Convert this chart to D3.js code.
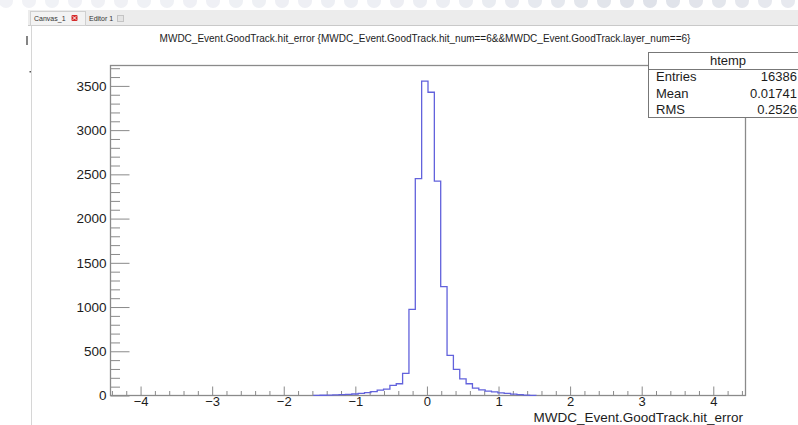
<!DOCTYPE html>
<html>
<head>
<meta charset="utf-8">
<script src="https://cdn.jsdelivr.net/npm/d3@7"></script>
<style>
  html, body { margin: 0; padding: 0; background: #fff; overflow: hidden; }
  text { font-family: "Liberation Sans", Arial, Helvetica, sans-serif; }
</style>
</head>
<body>
<svg id="c" width="798" height="425"></svg>
<script>
// ---- histogram contents ----
const histName = "htemp";
const plotTitle = "MWDC_Event.GoodTrack.hit_error {MWDC_Event.GoodTrack.hit_num==6&&MWDC_Event.GoodTrack.layer_num==6}";
const xTitle = "MWDC_Event.GoodTrack.hit_error";
const binLow = -4.42;
const binHigh = 4.45;
// 100 bins between binLow and binHigh
const counts = [
  0, 0, 0, 0, 0, 0, 0, 0, 0, 0,
  0, 0, 0, 0, 0, 0, 0, 0, 0, 0,
  0, 0, 0, 0, 0, 0, 0, 0, 0, 0,
  0, 0, 1, 3, 5, 7, 10, 13, 17, 24,
  32, 44, 60, 72, 114, 133, 250, 973, 2451, 3553,
  3428, 2424, 1231, 453, 295, 189, 133, 83, 63, 49,
  42, 30, 23, 15, 11, 5, 2, 0, 0, 0,
  0, 0, 0, 0, 0, 0, 0, 0, 0, 0,
  0, 0, 0, 0, 0, 0, 0, 0, 0, 0,
  0, 0, 0, 0, 0, 0, 0, 0, 0, 0
];
const statLabels = ["Entries", "Mean", "RMS"];
const statValues = ["16386", "0.01741", "0.2526"];
const xTickValues = [-4, -3, -2, -1, 0, 1, 2, 3, 4];
const yTickValues = [0, 500, 1000, 1500, 2000, 2500, 3000, 3500];
const tabNames = ["Canvas_1", "Editor 1"];

const svg = d3.select("#c");
const W = 798, H = 425;

// ---- window chrome ----
const chrome = svg.append("g");
// faint decorative strip above the tab bar
const strip = d3.range(6, W, 23);
const stripColor = d3.scaleLinear().domain([0, 450, 650, W]).range(["#f1f2f6", "#eceef3", "#dfe2e9", "#e8eaef"]);
chrome.selectAll("circle.strip").data(strip).join("circle")
  .attr("class", "strip")
  .attr("cx", d => d).attr("cy", 1).attr("r", 7)
  .attr("fill", d => stripColor(d));
chrome.append("rect").attr("x", 28).attr("y", 10).attr("width", W - 28).attr("height", 15).attr("fill", "#ececec");
chrome.append("line").attr("x1", 28).attr("x2", W).attr("y1", 25.5).attr("y2", 25.5).attr("stroke", "#c9c9c9");
// tabs
chrome.append("rect").attr("x", 30.5).attr("y", 11.5).attr("width", 55).attr("height", 14).attr("fill", "#f3f3f3").attr("stroke", "#d0d0d0");
chrome.append("text").attr("x", 34).attr("y", 21).attr("font-size", 7).attr("fill", "#333").text(tabNames[0]);
chrome.append("rect").attr("x", 71.5).attr("y", 15).attr("width", 6).attr("height", 6).attr("fill", "#d42a2a").attr("rx", 1);
chrome.append("path").attr("d", "M72.8,16.3L76.2,19.7M76.2,16.3L72.8,19.7").attr("stroke", "#fff").attr("stroke-width", 1);
chrome.append("text").attr("x", 89).attr("y", 21).attr("font-size", 7).attr("fill", "#333").text(tabNames[1]);
chrome.append("rect").attr("x", 117.5).attr("y", 15.5).attr("width", 6).attr("height", 6).attr("fill", "#e4e4e4").attr("stroke", "#c4c4c4");
// canvas border and small marks on the left margin
chrome.append("line").attr("x1", 31.5).attr("x2", 31.5).attr("y1", 26).attr("y2", H).attr("stroke", "#d6d6d6");
chrome.append("line").attr("x1", 27).attr("x2", 27).attr("y1", 36).attr("y2", 45).attr("stroke", "#333").attr("stroke-width", 1.2);
chrome.append("rect").attr("x", 29.5).attr("y", 71).attr("width", 1.5).attr("height", 1.5).attr("fill", "#555");

// ---- frame and scales ----
const fL = 110.5, fR = 745.5, fT = 65.5, fB = 395.5;
const nBins = counts.length;
const binW = (binHigh - binLow) / nBins;
const yMax = d3.max(counts) * 1.05;
const x = d3.scaleLinear().domain([binLow, binHigh]).range([fL, fR]);
const y = d3.scaleLinear().domain([0, yMax]).range([fB, fT]);

const frameColor = "#8a8a8a";
const textColor = "#1c1c1c";

// title
svg.append("text")
  .attr("x", 425).attr("y", 42)
  .attr("text-anchor", "middle")
  .attr("font-size", 10)
  .attr("fill", textColor)
  .text(plotTitle);

// x axis: major and minor ticks pointing into the frame
const gx = svg.append("g").attr("transform", `translate(0,${fB})`);
gx.call(d3.axisBottom(x).tickValues(xTickValues).tickSize(-9).tickSizeOuter(0).tickPadding(1.5)
  .tickFormat(d3.format("d")));
const xMinor = d3.range(-44, 45, 2).map(v => v / 10).filter(v => v > binLow && v < binHigh && Math.abs(v - Math.round(v)) > 1e-6);
gx.append("g").call(d3.axisBottom(x).tickValues(xMinor).tickSize(-4.5).tickSizeOuter(0).tickFormat(""));

// y axis
const gy = svg.append("g").attr("transform", `translate(${fL},0)`);
gy.call(d3.axisLeft(y).tickValues(yTickValues).tickSize(-19).tickSizeOuter(0).tickPadding(4)
  .tickFormat(d3.format("d")));
const yMinor = d3.range(100, yMax, 100).filter(v => v % 500 !== 0);
gy.append("g").call(d3.axisLeft(y).tickValues(yMinor).tickSize(-9.5).tickSizeOuter(0).tickFormat(""));

svg.selectAll(".domain").remove();
svg.selectAll(".tick line").attr("stroke", frameColor);
svg.selectAll(".tick text").attr("font-size", 13.5).attr("fill", textColor)
  .attr("font-family", "'Liberation Sans', Arial, Helvetica, sans-serif");
gx.selectAll(".tick text").attr("font-size", 13);

// frame
svg.append("rect")
  .attr("x", fL).attr("y", fT).attr("width", fR - fL).attr("height", fB - fT)
  .attr("fill", "none").attr("stroke", frameColor).attr("stroke-width", 1.3);

// histogram outline (step line) over the occupied range
const first = counts.findIndex(c => c > 0);
const last = nBins - 1 - [...counts].reverse().findIndex(c => c > 0);
const pts = [[binLow + first * binW, 0]];
for (let i = first; i <= last; i++) {
  pts.push([binLow + i * binW, counts[i]]);
  pts.push([binLow + (i + 1) * binW, counts[i]]);
}
pts.push([binLow + (last + 1) * binW, 0]);
const line = d3.line().x(d => x(d[0])).y(d => y(d[1])).curve(d3.curveLinear);
svg.append("path")
  .attr("d", line(pts))
  .attr("fill", "none")
  .attr("stroke", "#6262dc")
  .attr("stroke-width", 1.3)
  .attr("stroke-linejoin", "miter");

// x axis title
svg.append("text")
  .attr("x", 743).attr("y", 421.5)
  .attr("text-anchor", "end")
  .attr("font-size", 13.5)
  .attr("fill", textColor)
  .text(xTitle);

// statistics box
const sb = svg.append("g");
sb.append("rect").attr("x", 648.5).attr("y", 52.5).attr("width", 170).attr("height", 65)
  .attr("fill", "#fff").attr("stroke", "#777").attr("stroke-width", 1);
sb.append("line").attr("x1", 648.5).attr("x2", 818).attr("y1", 69.5).attr("y2", 69.5).attr("stroke", "#777");
sb.append("text").attr("x", 728).attr("y", 65).attr("text-anchor", "middle")
  .attr("font-size", 13).attr("fill", textColor).text(histName);
const rowY = [81, 98, 114];
sb.selectAll("text.lab").data(statLabels).join("text")
  .attr("class", "lab")
  .attr("x", 656).attr("y", (d, i) => rowY[i])
  .attr("font-size", 13).attr("fill", textColor).text(d => d);
sb.selectAll("text.val").data(statValues).join("text")
  .attr("class", "val")
  .attr("x", 797).attr("y", (d, i) => rowY[i]).attr("text-anchor", "end")
  .attr("font-size", 13).attr("fill", textColor).text(d => d);
</script>
</body>
</html>
